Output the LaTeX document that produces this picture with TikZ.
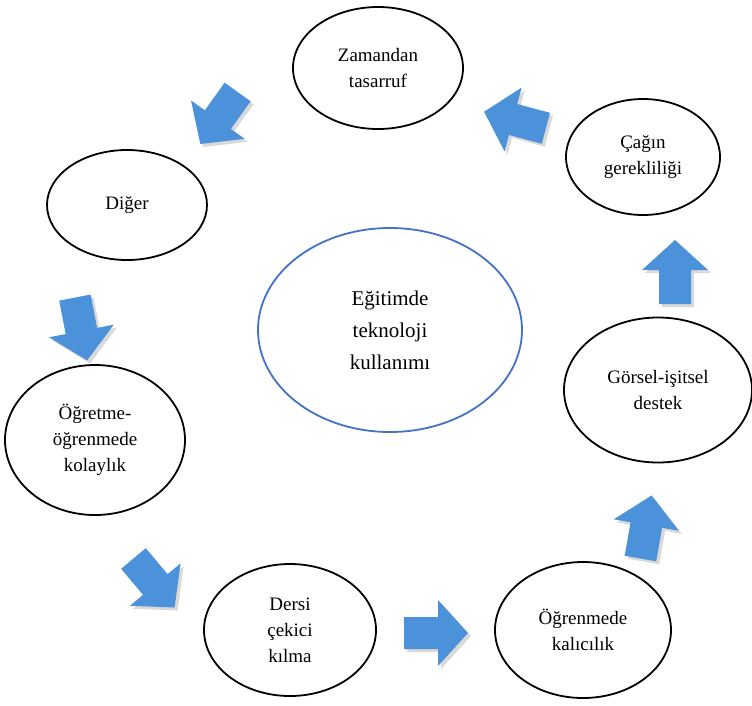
\documentclass[tikz,border=0pt]{standalone}
\usepackage{fontspec}
\setmainfont{Liberation Serif}
\usetikzlibrary{shapes.geometric}
\definecolor{arrowblue}{RGB}{76,146,218}
\definecolor{ringblue}{RGB}{68,114,196}
\tikzset{
  bubble/.style={ellipse, draw=black, line width=1.8pt, inner sep=0pt, align=center, font=\fontsize{19}{26}\selectfont},
  hub/.style={ellipse, draw=ringblue, line width=1.8pt, inner sep=0pt, align=center, font=\fontsize{21}{32}\selectfont},
  arrowbody/.style={fill=arrowblue},
  arrowshade/.style={fill=black, opacity=0.15}
}
\newcommand\barrow[4]{%
  \coordinate (#1) at (#2,#3);
  \begin{scope}[shift={(#2+3,#3+3)}, rotate=#4]
    \fill[arrowshade] (-32,-16) -- (2,-16) -- (2,-33) -- (32,0) -- (2,33) -- (2,16) -- (-32,16) -- cycle;
  \end{scope}
  \begin{scope}[shift={(#2,#3)}, rotate=#4]
    \fill[arrowbody] (-32,-16) -- (2,-16) -- (2,-33) -- (32,0) -- (2,33) -- (2,16) -- (-32,16) -- cycle;
  \end{scope}}
\begin{document}
\begin{tikzpicture}[x=1pt, y=-1pt]
\useasboundingbox (0,0) rectangle (752,705);
\node[hub, minimum width=264pt, minimum height=204pt] (merkez) at (390,330) {Eğitimde\\teknoloji\\kullanımı};
\node[bubble, minimum width=170pt, minimum height=122pt] (zaman) at (378,68) {Zamandan\\tasarruf};
\node[bubble, minimum width=154pt, minimum height=116pt] (cagin) at (643,157) {Çağın\\gerekliliği};
\node[bubble, minimum width=188pt, minimum height=145pt] (gorsel) at (658,390) {Görsel-işitsel\\destek};
\node[bubble, minimum width=176pt, minimum height=136pt] (kalici) at (583,630) {Öğrenmede\\kalıcılık};
\node[bubble, minimum width=172pt, minimum height=132pt] (dersi) at (290,630) {Dersi\\çekici\\kılma};
\node[bubble, minimum width=180pt, minimum height=150pt] (kolay) at (95,440) {Öğretme-\\öğrenmede\\kolaylık};
\node[bubble, minimum width=160pt, minimum height=110pt] (diger) at (127,205) {Diğer};
\barrow{a1}{219}{118}{-125.6}
\barrow{a2}{515}{120}{165}
\barrow{a3}{675}{272}{90}
\barrow{a4}{646}{527}{80}
\barrow{a5}{436}{633}{0}
\barrow{a6}{154}{583}{-50}
\barrow{a7}{81}{329}{-79}
\end{tikzpicture}
\end{document}
